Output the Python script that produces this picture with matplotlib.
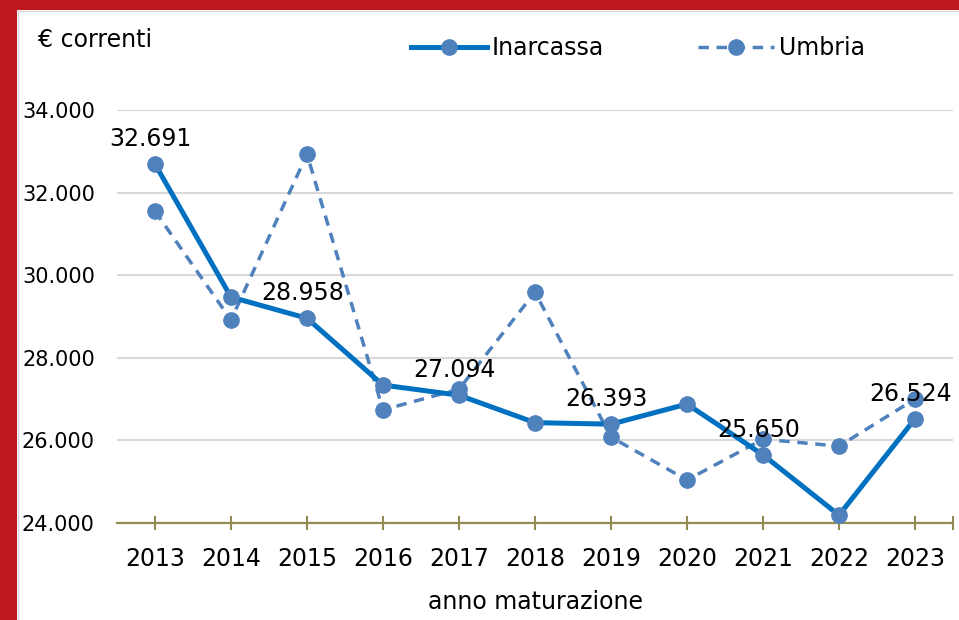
import matplotlib.pyplot as plt
from matplotlib.patches import Rectangle
from matplotlib.lines import Line2D

anni = ['2013', '2014', '2015', '2016', '2017', '2018', '2019', '2020', '2021', '2022', '2023']
inarcassa = [32691, 29470, 28958, 27340, 27094, 26430, 26393, 26880, 25650, 24190, 26524]
umbria = [31550, 28915, 32930, 26740, 27240, 29590, 26080, 25040, 26030, 25860, 27000]
etichette = [0, 2, 4, 6, 8, 10]  # punti con valore riportato

blu = '#0070C0'
blu_m = '#4F81BD'
oliva = '#948A54'
rosso = '#C0161F'

plt.rcParams['font.family'] = ['DejaVu Sans']

fig = plt.figure(figsize=(9.59, 6.2), dpi=100)
fig.patch.set_facecolor('white')

# cornice rossa
fig.patches.append(Rectangle((0, 0), 17 / 959, 1, transform=fig.transFigure,
                             facecolor=rosso, edgecolor='none', zorder=0))
fig.patches.append(Rectangle((0, 1 - 10 / 620), 1, 10 / 620, transform=fig.transFigure,
                             facecolor=rosso, edgecolor='none', zorder=0))
fig.add_artist(Line2D([17.5 / 959, 17.5 / 959], [0, 1 - 10 / 620], color='#D6D6D6', lw=1))
fig.add_artist(Line2D([17 / 959, 1], [1 - 10.5 / 620, 1 - 10.5 / 620], color='#D6D6D6', lw=1))

ax = fig.add_axes([117 / 959, 1 - 523 / 620, (953 - 117) / 959, (523 - 110) / 620])
x = list(range(len(anni)))

ax.plot(x, umbria, color=blu_m, lw=2.5, ls=(0, (3, 2.2)), marker='o', ms=11,
        mfc=blu_m, mec=blu_m, zorder=3)
ax.plot(x, inarcassa, color=blu, lw=3.6, marker='o', ms=11,
        mfc=blu_m, mec=blu_m, zorder=4)

for i in etichette:
    ax.annotate(f'{inarcassa[i]:,}'.replace(',', '.'), (x[i], inarcassa[i]),
                xytext=(-3, 18), textcoords='offset points', ha='center', va='center',
                fontsize=17, color='black', zorder=5, annotation_clip=False)

ax.set_xlim(-0.5, 10.5)
ax.set_ylim(24000, 34000)
ax.set_yticks(range(24000, 34001, 2000))
ax.set_yticklabels([f'{v:,}'.replace(',', '.') for v in range(24000, 34001, 2000)])
ax.set_xticks(x)
ax.set_xticklabels(anni)
ax.set_xticks([10.5], minor=True)

ax.grid(axis='y', color='#D9D9D9', lw=1.5)
ax.set_axisbelow(True)
for s in ['top', 'right', 'left']:
    ax.spines[s].set_visible(False)
ax.spines['bottom'].set_color(oliva)
ax.spines['bottom'].set_linewidth(1.6)
ax.spines['bottom'].set_zorder(2)

ax.tick_params(axis='y', length=0, labelsize=15, pad=16)
ax.tick_params(axis='x', which='both', direction='inout', length=10, width=1.5,
               color=oliva, labelsize=17, pad=12)

ax.set_xlabel('anno maturazione', fontsize=17, labelpad=14)

fig.text(38 / 959, 1 - 40 / 620, '€ correnti', fontsize=17, va='center', ha='left')

handles = [
    Line2D([], [], color=blu, lw=3.6, marker='o', ms=11, mfc=blu_m, mec=blu_m),
    Line2D([], [], color=blu_m, lw=2.5, ls=(0, (3, 2.2)), marker='o', ms=11,
           mfc=blu_m, mec=blu_m),
]
fig.legend(handles, ['Inarcassa', 'Umbria'], loc='center', ncol=2,
           bbox_to_anchor=(638 / 959, 1 - 48 / 620), frameon=False, fontsize=17,
           handlelength=3.2, handletextpad=0.2, columnspacing=4.0)

fig.savefig('out.png', dpi=100)
